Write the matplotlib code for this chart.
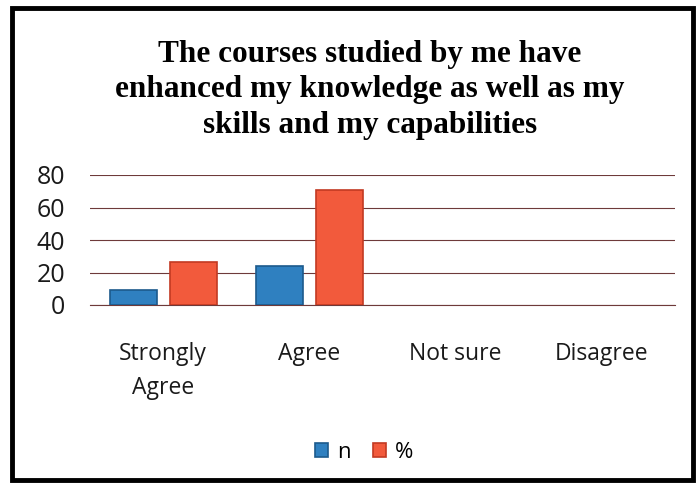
import matplotlib
matplotlib.use("Agg")
import matplotlib.pyplot as plt
import numpy as np
from matplotlib.patches import Rectangle

categories = ["Strongly\nAgree", "Agree", "Not sure", "Disagree"]
n_values = [9, 24, 0, 0]
pct_values = [26.5, 70.6, 0, 0]
series_names = ["n", "%"]
yticks = [0, 20, 40, 60, 80]
title = "The courses studied by me have\nenhanced my knowledge as well as my\nskills and my capabilities"

W, H = 698, 488
fig = plt.figure(figsize=(W / 100, H / 100), dpi=100)
fig.patch.set_facecolor("white")

# outer frame
fig.patches.append(Rectangle((12 / W, 8 / H), (693 - 12) / W, (480 - 8) / H,
                             transform=fig.transFigure, fill=False,
                             edgecolor="black", linewidth=3.5))

ax = fig.add_axes([90 / W, 1 - 305 / H, (675 - 90) / W, 130 / H])
x = np.arange(len(categories))
blue = "#2f80c0"
red = "#f25a3c"
ax.bar(x - 0.205, n_values, width=0.32, color=blue, edgecolor="#1c5a8c",
       linewidth=[1.2 if v > 0 else 0 for v in n_values],
       label=series_names[0], zorder=3)
ax.bar(x + 0.205, pct_values, width=0.32, color=red, edgecolor="#c23a22",
       linewidth=[1.2 if v > 0 else 0 for v in pct_values],
       label=series_names[1], zorder=3)

ax.set_xlim(-0.5, len(categories) - 0.5)
ax.set_ylim(0, 80)
ax.set_yticks(yticks)
ax.yaxis.grid(True, color="#6e3a3a", linewidth=0.8, zorder=0)
ax.set_axisbelow(True)
for s in ["top", "right", "left"]:
    ax.spines[s].set_visible(False)
ax.spines["bottom"].set_color("#6e3a3a")
ax.spines["bottom"].set_linewidth(0.8)
ax.tick_params(axis="both", length=0)
ax.tick_params(axis="y", labelsize=18, pad=18)
ax.set_xticks(x)
ax.set_xticklabels(categories, fontsize=16.5, linespacing=1.5)
ax.tick_params(axis="x", pad=27)
for lab in ax.get_yticklabels() + ax.get_xticklabels():
    lab.set_family(["Open Sans", "DejaVu Sans"])
    lab.set_color("#1a1a1a")

fig.text(370 / W, 1 - 90 / H, title, ha="center", va="center",
         fontsize=22.5, fontweight="bold", family="Liberation Serif",
         linespacing=1.3)

leg = fig.legend(loc="center", bbox_to_anchor=(364 / W, 1 - 452 / H),
                 ncol=2, frameon=False, handlelength=0.6,
                 handleheight=0.6, handletextpad=0.4, columnspacing=1.0,
                 prop={"family": "Open Sans", "size": 16})

fig.savefig("out.png", dpi=100, facecolor="white")
